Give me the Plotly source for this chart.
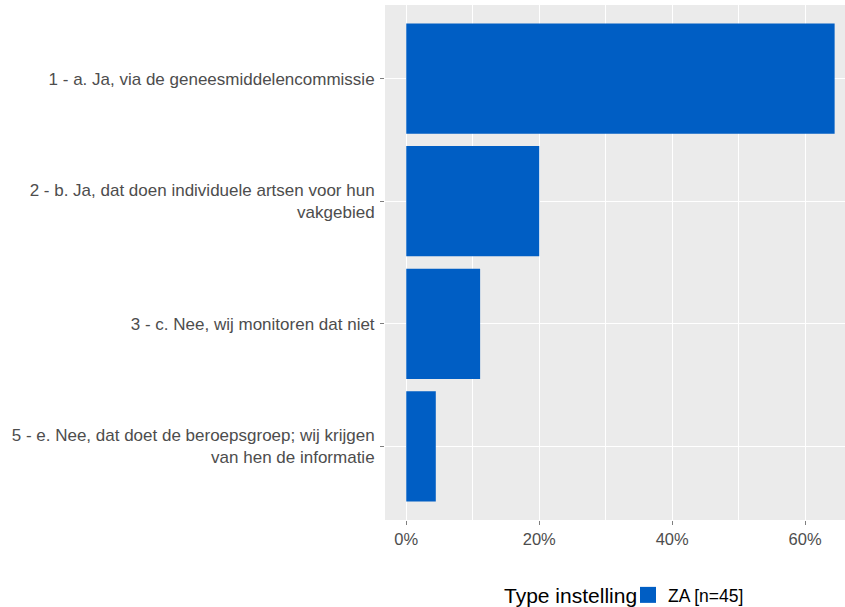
import plotly.graph_objects as go

categories = [
    "1 - a. Ja, via de geneesmiddelencommissie",
    "2 - b. Ja, dat doen individuele artsen voor hun<br>vakgebied",
    "3 - c. Nee, wij monitoren dat niet",
    "5 - e. Nee, dat doet de beroepsgroep; wij krijgen<br>van hen de informatie",
]
values = [64.44, 20.0, 11.11, 4.44]  # percent, n=45
series_name = "ZA [n=45]"
legend_title = "Type instelling"
x_ticks = [0, 20, 40, 60]
x_tick_labels = ["0%", "20%", "40%", "60%"]
bar_color = "#005ec4"

fig = go.Figure()
fig.add_trace(go.Bar(
    x=values, y=categories, orientation="h", name=series_name,
    marker=dict(color=bar_color, line=dict(width=0)),
    width=0.9, showlegend=False,
))
# legend key (larger square like ggplot's)
fig.add_trace(go.Scatter(
    x=[None], y=[None], mode="markers", name=series_name,
    marker=dict(symbol="square", size=16, color=bar_color, line=dict(width=0)),
    showlegend=True, hoverinfo="skip",
))

fig.update_layout(
    width=845, height=607,
    margin=dict(l=385, r=0, t=5, b=87),
    paper_bgcolor="white", plot_bgcolor="#ebebeb",
    font=dict(family="Liberation Sans, Arial, sans-serif", color="#4d4d4d", size=17),
    showlegend=True,
    legend=dict(
        orientation="h", xref="container", yref="container",
        x=628 / 845, xanchor="left", y=(607 - 595) / 607, yanchor="middle",
        font=dict(size=17.5, color="#000000"),
        itemwidth=30, tracegroupgap=0, bgcolor="rgba(0,0,0,0)",
    ),
    annotations=[dict(
        text=legend_title, xref="paper", yref="paper",
        x=(639 - 385) / 460, y=(520 - 595) / 515,
        xanchor="right", yanchor="middle", showarrow=False,
        font=dict(size=21, color="#000000"),
    )],
)
fig.update_xaxes(
    range=[-3.2, 66.0], tickvals=x_ticks, ticktext=x_tick_labels,
    showgrid=True, gridcolor="white", gridwidth=1.2,
    minor=dict(dtick=10, tick0=0, showgrid=True, gridcolor="white", gridwidth=0.5),
    ticks="outside", ticklen=4, tickcolor="#7f7f7f", tickwidth=1,
    zeroline=False, showline=False, tickfont=dict(size=16.5, color="#4d4d4d"),
    ticklabelstandoff=0,
)
fig.update_yaxes(
    categoryorder="array", categoryarray=categories[::-1],
    range=[-0.6, 3.6],
    showgrid=True, gridcolor="white", gridwidth=1.2,
    ticks="outside", ticklen=4, tickcolor="#7f7f7f", tickwidth=1,
    zeroline=False, showline=False, tickfont=dict(size=17, color="#4d4d4d"),
    ticklabelstandoff=2,
)

fig.write_html("out.html", config={"displayModeBar": False},
               post_script="document.body.style.margin='0px';")
